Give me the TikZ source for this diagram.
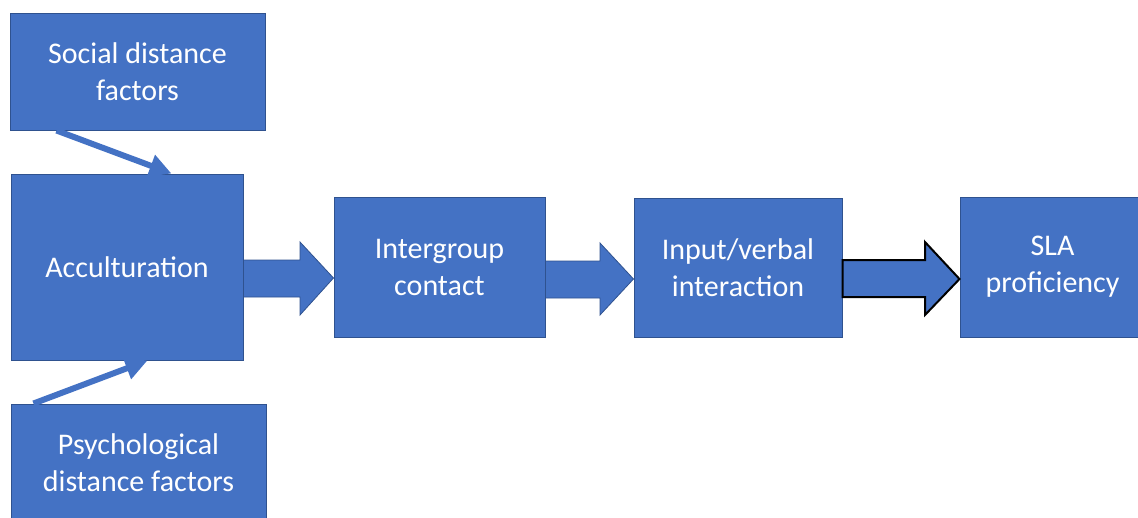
\documentclass[tikz,border=0pt]{standalone}
\usepackage{fontspec}
\setmainfont{Carlito}
\usetikzlibrary{arrows.meta,calc}
\definecolor{boxblue}{HTML}{4472C4}
\definecolor{boxedge}{HTML}{2F528F}
\tikzset{
  box/.style={rectangle, fill=boxblue, draw=boxedge, line width=1pt, inner sep=0pt,
    text=white, align=center, font=\fontsize{30}{37}\selectfont},
  thinarrow/.style={draw=boxblue, line width=6pt,
    -{Triangle[length=22pt,width=22pt]}},
  blockarrow/.style={fill=boxblue, draw=boxedge, line width=0.8pt, line join=miter},
  blockarrowblack/.style={fill=boxblue, draw=black, line width=2pt, line join=miter}
}
\begin{document}
\begin{tikzpicture}[x=1pt,y=-1pt]
\useasboundingbox (0,0) rectangle (1138,517);
\begin{scope}
\clip (0,0) rectangle (1138,517);
\node[box, minimum width=255pt, minimum height=117pt] (soc) at (137.5,71.5) {Social distance\\factors};
\node[box, minimum width=232pt, minimum height=186pt] (acc) at (127,267) {Acculturation};
\node[box, minimum width=255pt, minimum height=117pt] (psy) at (138.5,462.5) {Psychological\\distance factors};
\node[box, minimum width=211pt, minimum height=140pt] (inter) at (439.5,267) {Intergroup\\contact};
\node[box, minimum width=208pt, minimum height=139pt] (inp) at (738,267.5) {Input/verbal\\interaction};
\node[box, minimum width=185pt, minimum height=140pt] (sla) at (1052.5,267) {SLA\\proficiency};

% thin arrows
\coordinate (s1) at ($(soc.south west)+(47,0)$);
\coordinate (s2) at ($(acc.north west)+(161,0)$);
\draw[thinarrow] (s1) -- (s2);
\coordinate (p1) at ($(psy.north west)+(23,0)$);
\coordinate (p2) at ($(acc.south west)+(137,0)$);
\draw[thinarrow] (p1) -- (p2);

% block arrows
\path[blockarrow] (acc.east |- 0,260) -- (300,260) -- (300,242) -- (inter.west |- 0,278)
  -- (300,315) -- (300,297) -- (acc.east |- 0,297) -- cycle;
\path[blockarrow] (inter.east |- 0,261) -- (600,261) -- (600,243) -- (inp.west |- 0,279)
  -- (600,315) -- (600,298) -- (inter.east |- 0,298) -- cycle;
\path[blockarrowblack] (inp.east |- 0,260) -- (925,260) -- (925,242) -- (sla.west |- 0,279)
  -- (925,315) -- (925,297) -- (inp.east |- 0,297) -- cycle;
\end{scope}
\end{tikzpicture}
\end{document}
